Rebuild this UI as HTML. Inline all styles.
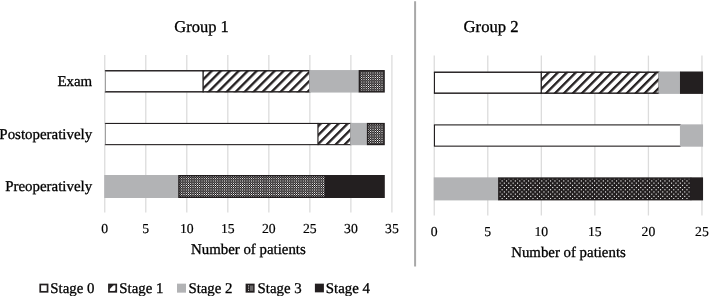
<!DOCTYPE html><html><head><meta charset="utf-8"><title>Chart</title><style>html,body{margin:0;padding:0;background:#fff}svg{display:block}text{font-family:"Liberation Serif",serif;text-rendering:geometricPrecision;fill:#000;stroke:#000;stroke-width:0.18px}text.b{stroke-width:0.3px}text.l{stroke-width:0.3px}</style></head><body>
<svg width="710" height="296" viewBox="0 0 710 296">
<defs>
<pattern id="h1" patternUnits="userSpaceOnUse" width="6.35" height="6.35" patternTransform="translate(2.6 0) rotate(-45)"><rect width="6.35" height="6.35" fill="#fff"/><rect width="6.35" height="2.35" fill="#231f20"/></pattern>
<pattern id="h2" patternUnits="userSpaceOnUse" width="6.35" height="6.35" patternTransform="translate(0 0) rotate(-45)"><rect width="6.35" height="6.35" fill="#fff"/><rect width="6.35" height="2.35" fill="#231f20"/></pattern>
<pattern id="d1" patternUnits="userSpaceOnUse" width="9" height="9" patternTransform="translate(8 5)"><rect width="9" height="9" fill="#231f20"/><rect x="0" y="0" width="1" height="1" fill="#ffffff"/><rect x="2" y="0" width="1" height="1" fill="#e7e6e7"/><rect x="3" y="0" width="1" height="1" fill="#4a4748"/><rect x="4" y="0" width="1" height="1" fill="#999797"/><rect x="5" y="0" width="1" height="1" fill="#999797"/><rect x="6" y="0" width="1" height="1" fill="#4a4748"/><rect x="7" y="0" width="1" height="1" fill="#e7e6e7"/><rect x="1" y="1" width="1" height="1" fill="#817f7f"/><rect x="3" y="1" width="1" height="1" fill="#625f60"/><rect x="4" y="1" width="1" height="1" fill="#423f40"/><rect x="5" y="1" width="1" height="1" fill="#423f40"/><rect x="6" y="1" width="1" height="1" fill="#625f60"/><rect x="8" y="1" width="1" height="1" fill="#817f7f"/><rect x="0" y="2" width="1" height="1" fill="#e7e6e7"/><rect x="2" y="2" width="1" height="1" fill="#c6c5c6"/><rect x="3" y="2" width="1" height="1" fill="#444041"/><rect x="4" y="2" width="1" height="1" fill="#858383"/><rect x="5" y="2" width="1" height="1" fill="#858383"/><rect x="6" y="2" width="1" height="1" fill="#444041"/><rect x="7" y="2" width="1" height="1" fill="#c6c5c6"/><rect x="0" y="3" width="1" height="1" fill="#4a4748"/><rect x="1" y="3" width="1" height="1" fill="#625f60"/><rect x="2" y="3" width="1" height="1" fill="#444041"/><rect x="3" y="3" width="1" height="1" fill="#535051"/><rect x="4" y="3" width="1" height="1" fill="#4b4849"/><rect x="5" y="3" width="1" height="1" fill="#4b4849"/><rect x="6" y="3" width="1" height="1" fill="#535051"/><rect x="7" y="3" width="1" height="1" fill="#444041"/><rect x="8" y="3" width="1" height="1" fill="#625f60"/><rect x="0" y="4" width="1" height="1" fill="#999797"/><rect x="1" y="4" width="1" height="1" fill="#423f40"/><rect x="2" y="4" width="1" height="1" fill="#858383"/><rect x="3" y="4" width="1" height="1" fill="#4b4849"/><rect x="4" y="4" width="1" height="1" fill="#686566"/><rect x="5" y="4" width="1" height="1" fill="#686566"/><rect x="6" y="4" width="1" height="1" fill="#4b4849"/><rect x="7" y="4" width="1" height="1" fill="#858383"/><rect x="8" y="4" width="1" height="1" fill="#423f40"/><rect x="0" y="5" width="1" height="1" fill="#999797"/><rect x="1" y="5" width="1" height="1" fill="#423f40"/><rect x="2" y="5" width="1" height="1" fill="#858383"/><rect x="3" y="5" width="1" height="1" fill="#4b4849"/><rect x="4" y="5" width="1" height="1" fill="#686566"/><rect x="5" y="5" width="1" height="1" fill="#686566"/><rect x="6" y="5" width="1" height="1" fill="#4b4849"/><rect x="7" y="5" width="1" height="1" fill="#858383"/><rect x="8" y="5" width="1" height="1" fill="#423f40"/><rect x="0" y="6" width="1" height="1" fill="#4a4748"/><rect x="1" y="6" width="1" height="1" fill="#625f60"/><rect x="2" y="6" width="1" height="1" fill="#444041"/><rect x="3" y="6" width="1" height="1" fill="#535051"/><rect x="4" y="6" width="1" height="1" fill="#4b4849"/><rect x="5" y="6" width="1" height="1" fill="#4b4849"/><rect x="6" y="6" width="1" height="1" fill="#535051"/><rect x="7" y="6" width="1" height="1" fill="#444041"/><rect x="8" y="6" width="1" height="1" fill="#625f60"/><rect x="0" y="7" width="1" height="1" fill="#e7e6e7"/><rect x="2" y="7" width="1" height="1" fill="#c6c5c6"/><rect x="3" y="7" width="1" height="1" fill="#444041"/><rect x="4" y="7" width="1" height="1" fill="#858383"/><rect x="5" y="7" width="1" height="1" fill="#858383"/><rect x="6" y="7" width="1" height="1" fill="#444041"/><rect x="7" y="7" width="1" height="1" fill="#c6c5c6"/><rect x="1" y="8" width="1" height="1" fill="#817f7f"/><rect x="3" y="8" width="1" height="1" fill="#625f60"/><rect x="4" y="8" width="1" height="1" fill="#423f40"/><rect x="5" y="8" width="1" height="1" fill="#423f40"/><rect x="6" y="8" width="1" height="1" fill="#625f60"/><rect x="8" y="8" width="1" height="1" fill="#817f7f"/></pattern>
<pattern id="d2" patternUnits="userSpaceOnUse" width="22" height="22"><rect width="22" height="22" fill="#231f20"/><rect x="0.0000" y="0.0000" width="1.1" height="1.1" fill="#fff"/><rect x="2.2000" y="2.2000" width="1.1" height="1.1" fill="#fff"/><rect x="4.4000" y="0.0000" width="1.1" height="1.1" fill="#fff"/><rect x="6.6000" y="2.2000" width="1.1" height="1.1" fill="#fff"/><rect x="8.8000" y="0.0000" width="1.1" height="1.1" fill="#fff"/><rect x="11.0000" y="2.2000" width="1.1" height="1.1" fill="#fff"/><rect x="13.2000" y="0.0000" width="1.1" height="1.1" fill="#fff"/><rect x="15.4000" y="2.2000" width="1.1" height="1.1" fill="#fff"/><rect x="17.6000" y="0.0000" width="1.1" height="1.1" fill="#fff"/><rect x="19.8000" y="2.2000" width="1.1" height="1.1" fill="#fff"/><rect x="0.0000" y="4.4000" width="1.1" height="1.1" fill="#fff"/><rect x="2.2000" y="6.6000" width="1.1" height="1.1" fill="#fff"/><rect x="4.4000" y="4.4000" width="1.1" height="1.1" fill="#fff"/><rect x="6.6000" y="6.6000" width="1.1" height="1.1" fill="#fff"/><rect x="8.8000" y="4.4000" width="1.1" height="1.1" fill="#fff"/><rect x="11.0000" y="6.6000" width="1.1" height="1.1" fill="#fff"/><rect x="13.2000" y="4.4000" width="1.1" height="1.1" fill="#fff"/><rect x="15.4000" y="6.6000" width="1.1" height="1.1" fill="#fff"/><rect x="17.6000" y="4.4000" width="1.1" height="1.1" fill="#fff"/><rect x="19.8000" y="6.6000" width="1.1" height="1.1" fill="#fff"/><rect x="0.0000" y="8.8000" width="1.1" height="1.1" fill="#fff"/><rect x="2.2000" y="11.0000" width="1.1" height="1.1" fill="#fff"/><rect x="4.4000" y="8.8000" width="1.1" height="1.1" fill="#fff"/><rect x="6.6000" y="11.0000" width="1.1" height="1.1" fill="#fff"/><rect x="8.8000" y="8.8000" width="1.1" height="1.1" fill="#fff"/><rect x="11.0000" y="11.0000" width="1.1" height="1.1" fill="#fff"/><rect x="13.2000" y="8.8000" width="1.1" height="1.1" fill="#fff"/><rect x="15.4000" y="11.0000" width="1.1" height="1.1" fill="#fff"/><rect x="17.6000" y="8.8000" width="1.1" height="1.1" fill="#fff"/><rect x="19.8000" y="11.0000" width="1.1" height="1.1" fill="#fff"/><rect x="0.0000" y="13.2000" width="1.1" height="1.1" fill="#fff"/><rect x="2.2000" y="15.4000" width="1.1" height="1.1" fill="#fff"/><rect x="4.4000" y="13.2000" width="1.1" height="1.1" fill="#fff"/><rect x="6.6000" y="15.4000" width="1.1" height="1.1" fill="#fff"/><rect x="8.8000" y="13.2000" width="1.1" height="1.1" fill="#fff"/><rect x="11.0000" y="15.4000" width="1.1" height="1.1" fill="#fff"/><rect x="13.2000" y="13.2000" width="1.1" height="1.1" fill="#fff"/><rect x="15.4000" y="15.4000" width="1.1" height="1.1" fill="#fff"/><rect x="17.6000" y="13.2000" width="1.1" height="1.1" fill="#fff"/><rect x="19.8000" y="15.4000" width="1.1" height="1.1" fill="#fff"/><rect x="0.0000" y="17.6000" width="1.1" height="1.1" fill="#fff"/><rect x="2.2000" y="19.8000" width="1.1" height="1.1" fill="#fff"/><rect x="4.4000" y="17.6000" width="1.1" height="1.1" fill="#fff"/><rect x="6.6000" y="19.8000" width="1.1" height="1.1" fill="#fff"/><rect x="8.8000" y="17.6000" width="1.1" height="1.1" fill="#fff"/><rect x="11.0000" y="19.8000" width="1.1" height="1.1" fill="#fff"/><rect x="13.2000" y="17.6000" width="1.1" height="1.1" fill="#fff"/><rect x="15.4000" y="19.8000" width="1.1" height="1.1" fill="#fff"/><rect x="17.6000" y="17.6000" width="1.1" height="1.1" fill="#fff"/><rect x="19.8000" y="19.8000" width="1.1" height="1.1" fill="#fff"/></pattern>
</defs>
<rect width="710" height="296" fill="#fff"/>
<line x1="104.75" x2="104.75" y1="55" y2="212.4" stroke="#dcdcdc" stroke-width="1.3"/>
<line x1="145.77" x2="145.77" y1="55" y2="212.4" stroke="#dcdcdc" stroke-width="1.3"/>
<line x1="186.79" x2="186.79" y1="55" y2="212.4" stroke="#dcdcdc" stroke-width="1.3"/>
<line x1="227.81" x2="227.81" y1="55" y2="212.4" stroke="#dcdcdc" stroke-width="1.3"/>
<line x1="268.84" x2="268.84" y1="55" y2="212.4" stroke="#dcdcdc" stroke-width="1.3"/>
<line x1="309.86" x2="309.86" y1="55" y2="212.4" stroke="#dcdcdc" stroke-width="1.3"/>
<line x1="350.88" x2="350.88" y1="55" y2="212.4" stroke="#dcdcdc" stroke-width="1.3"/>
<line x1="391.90" x2="391.90" y1="55" y2="212.4" stroke="#dcdcdc" stroke-width="1.3"/>
<line x1="434.25" x2="434.25" y1="55.6" y2="215.5" stroke="#dcdcdc" stroke-width="1.3"/>
<line x1="487.79" x2="487.79" y1="55.6" y2="215.5" stroke="#dcdcdc" stroke-width="1.3"/>
<line x1="541.33" x2="541.33" y1="55.6" y2="215.5" stroke="#dcdcdc" stroke-width="1.3"/>
<line x1="594.87" x2="594.87" y1="55.6" y2="215.5" stroke="#dcdcdc" stroke-width="1.3"/>
<line x1="648.41" x2="648.41" y1="55.6" y2="215.5" stroke="#dcdcdc" stroke-width="1.3"/>
<line x1="701.95" x2="701.95" y1="55.6" y2="215.5" stroke="#dcdcdc" stroke-width="1.3"/>
<line x1="415.1" x2="415.1" y1="1.2" y2="266.5" stroke="#a8a8a8" stroke-width="2"/>
<rect x="104.75" y="70.35" width="98.45" height="21.90" fill="#fff"/><rect x="104.90" y="70.05" width="98.85" height="1.45" fill="#231f20"/><rect x="104.90" y="91.10" width="98.85" height="1.45" fill="#231f20"/><rect x="105.15" y="70.65" width="0.65" height="21.30" fill="#6e6e6e"/><rect x="202.65" y="70.65" width="1.1" height="21.30" fill="#231f20"/>
<rect x="203.20" y="70.35" width="106.66" height="21.90" fill="url(#h1)"/><rect x="202.65" y="70.05" width="107.76" height="1.45" fill="#231f20"/><rect x="202.65" y="91.10" width="107.76" height="1.45" fill="#231f20"/><rect x="202.65" y="70.65" width="1.1" height="21.30" fill="#231f20"/><rect x="309.31" y="70.65" width="1.1" height="21.30" fill="#231f20"/>
<rect x="309.26" y="70.05" width="49.83" height="22.50" fill="#b2b3b5"/>
<rect x="359.43" y="70.80" width="24.61" height="21.00" fill="url(#d1)" stroke="#231f20" stroke-width="1.5"/>
<rect x="104.75" y="123.20" width="213.31" height="21.70" fill="#fff"/><rect x="104.90" y="122.90" width="213.61" height="1.1" fill="#231f20"/><rect x="104.90" y="144.10" width="213.61" height="1.1" fill="#231f20"/><rect x="105.15" y="123.50" width="0.65" height="21.10" fill="#6e6e6e"/><rect x="317.61" y="123.50" width="0.9" height="21.10" fill="#231f20"/>
<rect x="318.06" y="123.20" width="32.82" height="21.70" fill="url(#h1)"/><rect x="317.61" y="122.90" width="33.72" height="1.1" fill="#231f20"/><rect x="317.61" y="144.10" width="33.72" height="1.1" fill="#231f20"/><rect x="317.61" y="123.50" width="0.9" height="21.10" fill="#231f20"/><rect x="350.43" y="123.50" width="0.9" height="21.10" fill="#231f20"/>
<rect x="350.28" y="122.90" width="17.01" height="22.30" fill="#b2b3b5"/>
<rect x="367.64" y="123.65" width="16.41" height="20.80" fill="url(#d1)" stroke="#231f20" stroke-width="1.5"/>
<rect x="104.25" y="175.00" width="74.34" height="23.00" fill="#b2b3b5"/>
<rect x="178.94" y="175.75" width="146.58" height="21.50" fill="url(#d1)" stroke="#231f20" stroke-width="1.5"/>
<rect x="325.72" y="175.00" width="59.08" height="23.00" fill="#231f20"/>
<rect x="434.25" y="71.80" width="107.08" height="21.80" fill="#fff"/><rect x="433.90" y="71.50" width="107.98" height="1.45" fill="#231f20"/><rect x="433.90" y="92.45" width="107.98" height="1.45" fill="#231f20"/><rect x="433.90" y="72.10" width="1.1" height="21.20" fill="#231f20"/><rect x="540.78" y="72.10" width="1.1" height="21.20" fill="#231f20"/>
<rect x="541.33" y="71.80" width="117.79" height="21.80" fill="url(#h2)"/><rect x="540.78" y="71.50" width="118.89" height="1.45" fill="#231f20"/><rect x="540.78" y="92.45" width="118.89" height="1.45" fill="#231f20"/><rect x="540.78" y="72.10" width="1.1" height="21.20" fill="#231f20"/><rect x="658.57" y="72.10" width="1.1" height="21.20" fill="#231f20"/>
<rect x="658.52" y="71.50" width="22.02" height="22.40" fill="#b2b3b5"/>
<rect x="679.98" y="71.50" width="23.07" height="22.40" fill="#231f20"/>
<rect x="434.25" y="124.65" width="246.28" height="21.75" fill="#fff"/><rect x="433.90" y="124.35" width="247.08" height="1.1" fill="#231f20"/><rect x="433.90" y="145.60" width="247.08" height="1.1" fill="#231f20"/><rect x="433.90" y="124.95" width="1.1" height="21.15" fill="#231f20"/><rect x="680.08" y="124.95" width="0.9" height="21.15" fill="#231f20"/>
<rect x="679.93" y="124.35" width="23.12" height="22.35" fill="#b2b3b5"/>
<rect x="433.75" y="177.35" width="64.75" height="23.05" fill="#b2b3b5"/>
<rect x="498.85" y="178.10" width="191.64" height="21.55" fill="url(#d2)" stroke="#231f20" stroke-width="1.5"/>
<rect x="690.69" y="177.35" width="12.36" height="23.05" fill="#231f20"/>
<text class="b" x="201.6" y="31.6" font-size="16.5" text-anchor="middle">Group 1</text>
<text class="b" x="491.1" y="32.1" font-size="16.65" text-anchor="middle">Group 2</text>
<text class="b" x="92.2" y="86.4" font-size="14.93" text-anchor="end">Exam</text>
<text class="b" x="92.2" y="138.5" font-size="14.93" text-anchor="end">Postoperatively</text>
<text class="b" x="92.2" y="190.9" font-size="14.93" text-anchor="end">Preoperatively</text>
<text x="104.75" y="233.2" font-size="13.7" text-anchor="middle">0</text>
<text x="145.77" y="233.2" font-size="13.7" text-anchor="middle">5</text>
<text x="186.79" y="233.2" font-size="13.7" text-anchor="middle">10</text>
<text x="227.81" y="233.2" font-size="13.7" text-anchor="middle">15</text>
<text x="268.84" y="233.2" font-size="13.7" text-anchor="middle">20</text>
<text x="309.86" y="233.2" font-size="13.7" text-anchor="middle">25</text>
<text x="350.88" y="233.2" font-size="13.7" text-anchor="middle">30</text>
<text x="391.90" y="233.2" font-size="13.7" text-anchor="middle">35</text>
<text x="434.25" y="235.6" font-size="13.7" text-anchor="middle">0</text>
<text x="487.79" y="235.6" font-size="13.7" text-anchor="middle">5</text>
<text x="541.33" y="235.6" font-size="13.7" text-anchor="middle">10</text>
<text x="594.87" y="235.6" font-size="13.7" text-anchor="middle">15</text>
<text x="648.41" y="235.6" font-size="13.7" text-anchor="middle">20</text>
<text x="701.95" y="235.6" font-size="13.7" text-anchor="middle">25</text>
<text class="b" x="248.4" y="254.1" font-size="14.87" text-anchor="middle">Number of patients</text>
<text class="b" x="568.5" y="256.6" font-size="14.85" text-anchor="middle">Number of patients</text>
<rect x="40.25" y="284.50" width="7.30" height="7.30" fill="#fff" stroke="#231f20" stroke-width="1.7"/>
<text class="l" x="50.25" y="292.9" font-size="14.85">Stage 0</text>
<rect x="108.95" y="284.50" width="7.30" height="7.30" fill="#fff" stroke="#231f20" stroke-width="1.7"/>
<path d="M109.30 284.85 L114.00 284.85 L109.30 289.55 Z" fill="#231f20"/>
<path d="M115.90 289.55 L115.90 291.45 L114.00 291.45 Z" fill="#231f20"/>
<text class="l" x="119.3" y="292.9" font-size="14.85">Stage 1</text>
<rect x="177.0" y="283.65" width="9.0" height="9.0" fill="#b2b3b5"/>
<text class="l" x="188.4" y="292.9" font-size="14.85">Stage 2</text>
<rect x="245.6" y="283.65" width="9.0" height="9.0" fill="#231f20"/>
<rect x="248.10" y="285.35" width="1" height="1" fill="#eee"/>
<rect x="248.10" y="287.60" width="1" height="1" fill="#eee"/>
<rect x="248.10" y="289.85" width="1" height="1" fill="#eee"/>
<rect x="250.00" y="285.45" width="3.2" height="5.4" fill="#6a6868"/>
<text class="l" x="257.5" y="292.9" font-size="14.85">Stage 3</text>
<rect x="314.9" y="283.65" width="9.0" height="8.7" fill="#231f20"/>
<text class="l" x="325.8" y="292.9" font-size="14.85">Stage 4</text>
</svg></body></html>
